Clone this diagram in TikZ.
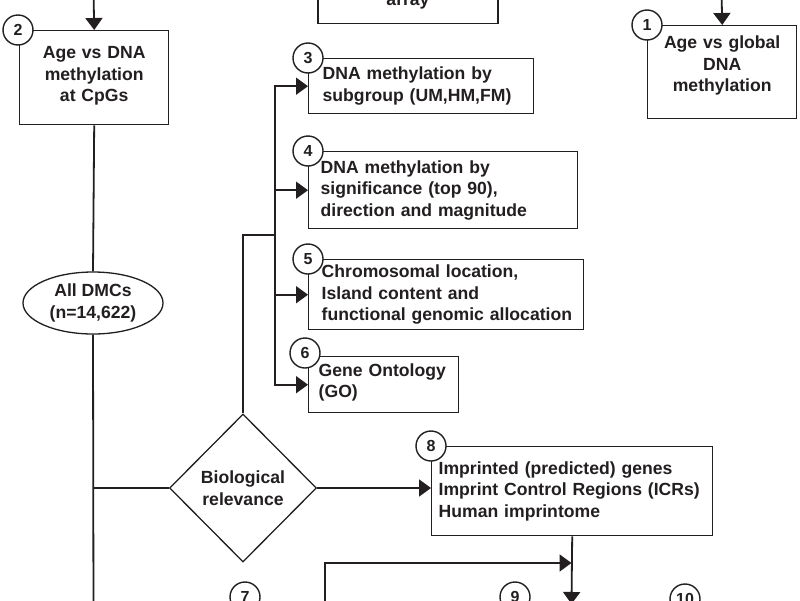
\documentclass[tikz,border=0pt]{standalone}
\usepackage{fontspec}
\setmainfont{Liberation Sans}
\usetikzlibrary{shapes.geometric,arrows.meta}
\definecolor{ink}{RGB}{35,31,32}
\begin{document}
\begin{tikzpicture}[x=1pt,y=-1pt,
  every node/.style={text=ink},
  txt/.style={font=\bfseries\fontsize{17.6}{21.5}\selectfont},
  box/.style={txt, draw=ink, line width=1.4pt, fill=white, anchor=north west, inner ysep=0pt, align=left},
  cbox/.style={box, align=center},
  num/.style={circle, draw=ink, line width=1.4pt, fill=white, minimum size=30pt, inner sep=0pt, font=\bfseries\fontsize{16}{16}\selectfont},
  conn/.style={draw=ink, line width=1.8pt},
  link/.style={draw=ink, line width=1.4pt},
  arr/.style={conn, -{Triangle[length=12pt,width=17pt]}},
]
\useasboundingbox (0,0) rectangle (800,600);
\begin{scope}
\clip (0,0) rectangle (800,600);
\fill[white] (0,0) rectangle (800,600);

% free ends of connectors
\coordinate (in2) at (93.5,-10);
\coordinate (in1) at (721.5,-10);
\coordinate (out2) at (93.5,620);
\coordinate (jn) at (275,235);
\coordinate (in9) at (325,620);
\coordinate (m9) at (571.5,563);
\coordinate (out8) at (571.5,604);

% boxes
\node[cbox, anchor=south, text width=160pt, inner xsep=10pt, inner ysep=14.3pt] (b0) at (408,24) {array};
\node[cbox, text width=130pt, inner xsep=9.5pt, minimum height=94pt] (b2) at (19,30) {Age vs DNA\\methylation\\at CpGs\par\vspace*{3pt}};
\node[cbox, text width=130pt, inner xsep=9.5pt, minimum height=93pt] (b1) at (647,25) {Age vs global\\DNA\\methylation\par\vspace*{13pt}};
\node[box, text width=197pt, inner xsep=14pt, minimum height=55pt] (b3) at (308,58) {\mbox{DNA methylation by}\\\mbox{subgroup (UM,HM,FM)}};
\node[box, text width=245pt, inner xsep=12pt, minimum height=77pt] (b4) at (308,151) {\mbox{DNA methylation by}\\\mbox{significance (top 90),}\\\mbox{direction and magnitude}};
\node[box, text width=249pt, inner xsep=13pt, minimum height=70pt] (b5) at (308,259) {\mbox{Chromosomal location,}\\\mbox{Island content and}\\\mbox{functional genomic allocation}};
\node[box, text width=130pt, inner xsep=10pt, minimum height=56pt] (b6) at (308,356) {\mbox{Gene Ontology}\\\mbox{(GO)}\par\vspace*{5pt}};
\node[box, text width=267pt, inner xsep=7pt, minimum height=89pt] (b8) at (431,446) {\mbox{Imprinted (predicted) genes}\\\mbox{Imprint Control Regions (ICRs)}\\\mbox{Human imprintome}};

\node[txt, ellipse, draw=ink, line width=1.3pt, fill=white, minimum width=140pt, minimum height=62pt, inner sep=0pt, align=center] (dmc) at (93,303) {All DMCs\\(n=14,622)};
\node[txt, diamond, draw=ink, line width=1.3pt, fill=white, shape aspect=1, minimum width=147pt, minimum height=148pt, inner sep=0pt, align=center] (dia) at (243,488) {Biological\\relevance};

% connectors
\draw[arr] (in2) -- (b2.north);
\draw[arr] (in1) -- (b1.north);
\draw[conn] (b2.south) -- (dmc.north);
\draw[conn] (dmc.south) -- (out2);
\draw[link] (dia.west) -- (dia.west -| dmc.south);
\draw[link] (dia.north) |- (jn);
\draw[arr] (jn) |- (b3.west);
\draw[arr] (jn) |- (b4.west);
\draw[arr] (jn) |- (b5.west);
\draw[arr] (jn) |- (b6.west);
\draw[arr] (dia.east) -- (b8.west |- dia.east);
\draw[arr] (b8.south) -- (out8);
\draw[arr] (in9) |- (m9);

% numbers
\node[num] (c1) at (b1.north west) {1};
\node[num] (c2) at ([xshift=-1pt]b2.north west) {2};
\node[num] (c3) at (b3.north west) {3};
\node[num] (c4) at (b4.north west) {4};
\node[num] (c5) at (b5.north west) {5};
\node[num] (c6) at ([shift={(-3pt,3pt)}]b6.north west) {6};
\node[num] (c8) at (b8.north west) {8};
\node[num] (c7) at (245,597) {7};
\node[num] (c9) at (515,597) {9};
\node[num] (c10) at (685,599) {10};
\end{scope}
\end{tikzpicture}
\end{document}
